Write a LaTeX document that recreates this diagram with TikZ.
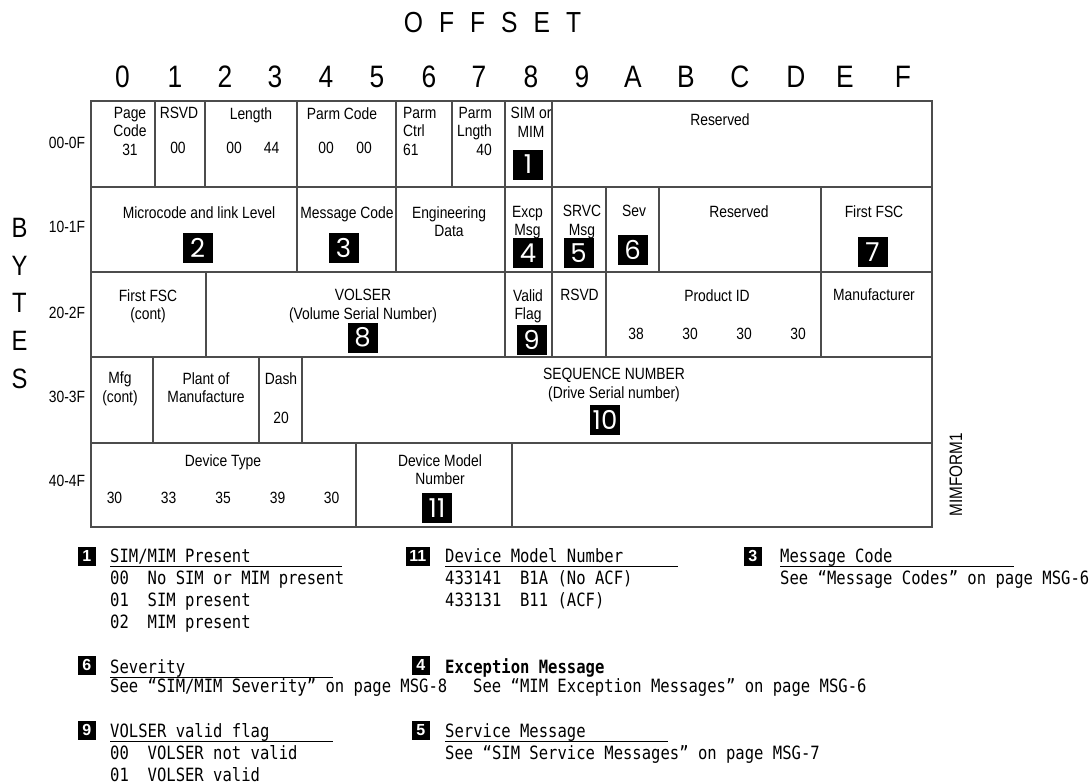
\documentclass[tikz,border=0pt]{standalone}
\usepackage{fontspec}
\setmainfont{Liberation Sans}
\newfontfamily\narrowsans[FakeStretch=0.85]{Liberation Sans}
\newfontfamily\badgesans{Poppins}
\newfontfamily\monotext[FakeStretch=0.85]{DejaVu Sans Mono}
\newcommand{\celltext}{\narrowsans\fontsize{16.3}{18.5}\selectfont}
\newcommand{\hextext}{\narrowsans\fontsize{31}{34}\selectfont}
\newcommand{\legtext}{\monotext\fontsize{18.3}{22}\selectfont}

\begin{document}
\begin{tikzpicture}[x=1pt, y=-1pt,
  cell/.style={anchor=north, inner sep=0pt, align=center, font=\celltext},
  hexdigit/.style={inner sep=0pt, font=\hextext},
  rowlab/.style={inner sep=0pt, font=\celltext},
  badge/.style={fill=black, text=white, minimum size=30pt, inner sep=0pt, font=\badgesans\fontsize{26}{26}\selectfont},
  keybox/.style={fill=black, text=white, minimum width=18pt, minimum height=19pt, inner xsep=3.5pt, inner ysep=0pt, font=\bfseries\fontsize{16}{16}\selectfont},
  legline/.style={anchor=base west, inner sep=0pt, font=\legtext},
  grid/.style={draw=black!70, line width=1.2pt},
  uline/.style={line width=1pt}]
\fill[white] (0,0) rectangle (1092,784);
\useasboundingbox (0,0) rectangle (1092,784);

\node[inner sep=0pt, font=\narrowsans\fontsize{29}{30}\selectfont] (offset) at (492.5,22.5) {O\hspace{16pt}F\hspace{16pt}F\hspace{16pt}S\hspace{16pt}E\hspace{16pt}T};
\foreach \d/\x in {0/122.5,1/175,2/225,3/275,4/326,5/377,6/429,7/479,8/531,9/582,A/633,B/686,C/740,D/796,E/845,F/903}
  \node[hexdigit] (h\d) at (\x,76.5) {\d};
\node[anchor=north, inner sep=0pt, align=center, font=\narrowsans\fontsize{28}{37.75}\selectfont] (bytes) at (19.5,218) {B\\Y\\T\\E\\S};
\foreach \lab/\y [count=\k] in {00-0F/143,10-1F/227,20-2F/313,30-3F/397,40-4F/481}
  \node[rowlab] (row\k) at (67,\y) {\lab};
\node[rotate=90, inner sep=0pt, font=\narrowsans\fontsize{18}{20}\selectfont] (formid) at (956,475) {MIMFORM1};

\draw[grid] (91,101) rectangle (932,527);
\foreach \y in {187,272,357,443}
  \draw[grid] (91,\y) -- (932,\y);
\foreach \x in {155,205,297,396,452,505,552}
  \draw[grid] (\x,101) -- (\x,187);
\foreach \x in {297,396,505,552,606,659,821}
  \draw[grid] (\x,187) -- (\x,272);
\foreach \x in {206,505,552,606,821}
  \draw[grid] (\x,272) -- (\x,357);
\foreach \x in {153,259,302}
  \draw[grid] (\x,357) -- (\x,443);
\foreach \x in {356,512}
  \draw[grid] (\x,443) -- (\x,527);

\node[cell] (pagecode) at (130,107) {Page\\Code\\31};
\node[cell] (rsvda) at (179,107) {RSVD};
\node[cell] (rsvdaval) at (178,142) {00};
\node[cell] (length) at (251,107) {Length};
\node[cell] (lenhi) at (234,142) {00};
\node[cell] (lenlo) at (271.5,142) {44};
\node[cell] (parmcode) at (342,107) {Parm Code};
\node[cell] (pchi) at (326,142) {00};
\node[cell] (pclo) at (364,142) {00};
\node[cell, anchor=north west, align=left] (parmctrl) at (403,107) {Parm\\Ctrl\\61};
\node[cell, anchor=north east, align=right] (parmlngth) at (492,107) {Parm\\Lngth\\40};
\node[cell] (simmim) at (531,107) {SIM or\\MIM};
\node[cell] (resa) at (720,113) {Reserved};

\node[cell] (microcode) at (199,206) {Microcode and link Level};
\node[cell] (msgcode) at (347,206) {Message Code};
\node[cell] (engdata) at (449,206) {Engineering\\Data};
\node[cell] (excp) at (527.5,206) {Excp\\Msg};
\node[cell] (srvc) at (582,205) {SRVC\\Msg};
\node[cell] (sev) at (634,205) {Sev};
\node[cell] (resb) at (739,205) {Reserved};
\node[cell] (fsc) at (874,205) {First FSC};

\node[cell] (fsccont) at (148,289) {First FSC\\(cont)};
\node[cell] (volser) at (363,289) {VOLSER\\(Volume Serial Number)};
\node[cell] (valid) at (528,289) {Valid\\Flag};
\node[cell] (rsvdb) at (579.5,289) {RSVD};
\node[cell] (prodid) at (717,289) {Product ID};
\foreach \v/\x [count=\k] in {38/636,30/690,30/744,30/798}
  \node[cell] (pid\k) at (\x,328) {\v};
\node[cell] (mfr) at (874,289) {Manufacturer};

\node[cell] (mfgcont) at (120,372) {Mfg\\(cont)};
\node[cell] (plant) at (206,372) {Plant of\\Manufacture};
\node[cell] (dash) at (281,372) {Dash};
\node[cell] (dashval) at (281,412) {20};
\node[cell] (seqnum) at (614,368) {SEQUENCE NUMBER\\(Drive Serial number)};

\node[cell] (devtype) at (223,454) {Device Type};
\foreach \v/\x [count=\k] in {30/114.5,33/168.5,35/223,39/277.5,30/331.5}
  \node[cell] (dt\k) at (\x,492) {\v};
\node[cell] (devmodel) at (440,454) {Device Model\\Number};

\foreach \n/\x/\y in {1/528/164.5,2/197.5/247.5,3/343.5/247.5,4/528/253,5/578.5/253,6/632.5/250,7/872.5/252,8/362.5/337.5,9/531.5/340,10/605/420,11/437/508}
  \node[badge] (b\n) at (\x,\y) {\n};

\node[keybox, anchor=east] (k1) at (96,556) {1};
\node[legline] (t1) at (110,562) {SIM/MIM Present};
\draw[uline] (110,566.5) -- (342,566.5);
\node[legline] (t1a) at (110,584) {00~~No SIM or MIM present};
\node[legline] (t1b) at (110,606) {01~~SIM present};
\node[legline] (t1c) at (110,628) {02~~MIM present};
\node[keybox, anchor=east] (k6) at (96,665) {6};
\node[legline] (t6) at (110,673) {Severity};
\draw[uline] (110,677) -- (333,677);
\node[legline] (t6a) at (110,692) {See “SIM/MIM Severity” on page MSG-8};
\node[keybox, anchor=east] (k9) at (96,730) {9};
\node[legline] (t9) at (110,737) {VOLSER valid flag};
\draw[uline] (110,741) -- (333,741);
\node[legline] (t9a) at (110,759) {00~~VOLSER not valid};
\node[legline] (t9b) at (110,781) {01~~VOLSER valid};

\node[keybox, anchor=east] (k11) at (430,556) {11};
\node[legline] (t11) at (445,562) {Device Model Number};
\draw[uline] (445,566.5) -- (678,566.5);
\node[legline] (t11a) at (445,584) {433141~~B1A (No ACF)};
\node[legline] (t11b) at (445,606) {433131~~B11 (ACF)};
\node[keybox, anchor=east] (k4) at (430,665) {4};
\node[legline, font=\legtext\bfseries] (t4) at (445,673) {Exception Message};
\node[legline] (t4a) at (473,692) {See “MIM Exception Messages” on page MSG-6};
\node[keybox, anchor=east] (k5) at (430,730) {5};
\node[legline] (t5) at (445,737) {Service Message};
\draw[uline] (445,741) -- (668,741);
\node[legline] (t5a) at (445,759) {See “SIM Service Messages” on page MSG-7};

\node[keybox, anchor=east] (k3) at (762,556) {3};
\node[legline] (t3) at (780,562) {Message Code};
\draw[uline] (780,566.5) -- (1014,566.5);
\node[legline] (t3a) at (780,584) {See “Message Codes” on page MSG-6};
\end{tikzpicture}
\end{document}
